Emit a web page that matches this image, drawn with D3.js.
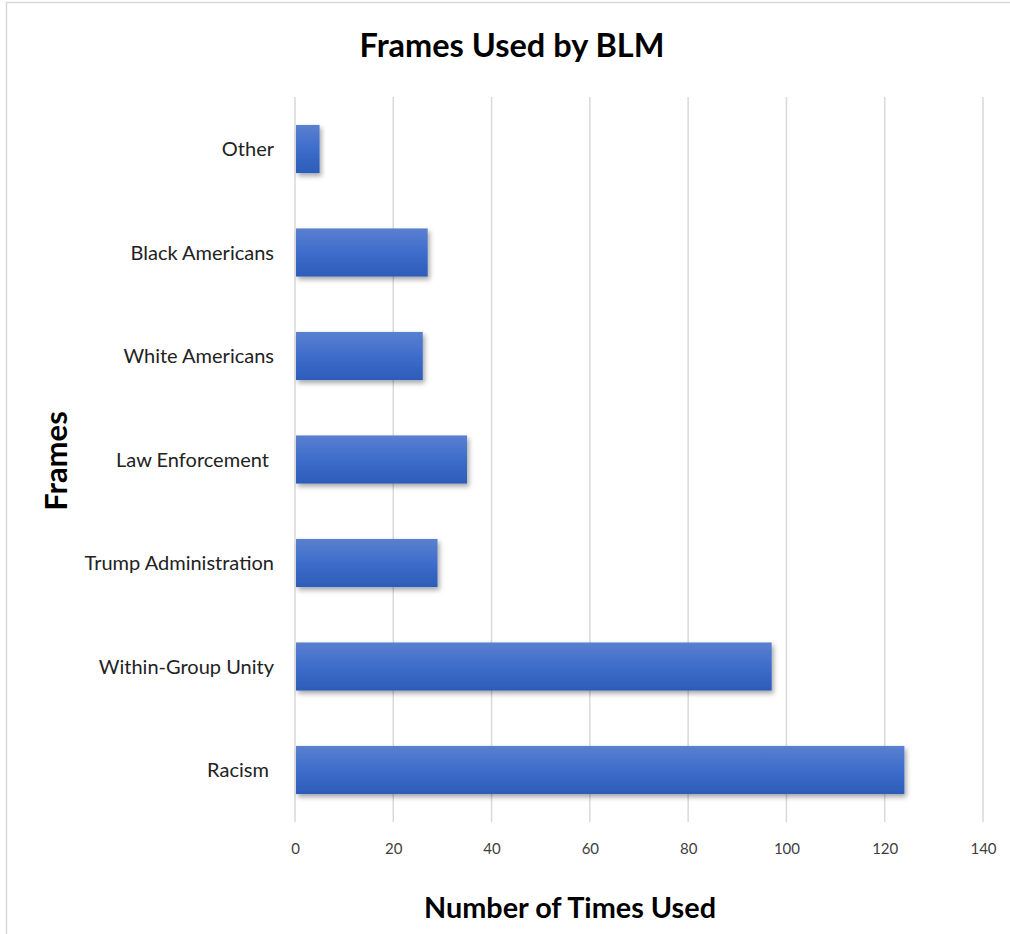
<!DOCTYPE html>
<html>
<head>
<meta charset="utf-8">
<script src="https://cdn.jsdelivr.net/npm/d3@7"></script>
<style>
  html, body { margin: 0; padding: 0; background: #fff; }
  svg text { font-family: Lato, "Open Sans", "Liberation Sans", sans-serif; }
</style>
</head>
<body>
<svg id="chart" width="1010" height="934"></svg>
<script>
// Frames and how often each one was used
const categories = ["Other", "Black Americans", "White Americans", "Law Enforcement ", "Trump Administration", "Within-Group Unity", "Racism "];
const counts = [5, 27, 26, 35, 29, 97, 124];
const xTicks = [0, 20, 40, 60, 80, 100, 120, 140];

const svg = d3.select("#chart");
const W = 1010, H = 934;
const m = { left: 295, right: 983, top: 97, bottom: 822 };

// chart frame
svg.append("rect")
  .attr("x", 6.5).attr("y", 2.5)
  .attr("width", W + 10).attr("height", H + 10)
  .attr("fill", "#fff").attr("stroke", "#d9d9d9").attr("stroke-width", 1.5);

const defs = svg.append("defs");
const grad = defs.append("linearGradient")
  .attr("id", "barFill").attr("x1", 0).attr("y1", 0).attr("x2", 0).attr("y2", 1);
grad.append("stop").attr("offset", "0%").attr("stop-color", "#5a80d0");
grad.append("stop").attr("offset", "50%").attr("stop-color", "#3d6dcb");
grad.append("stop").attr("offset", "100%").attr("stop-color", "#2d5cb8");

const shadow = defs.append("filter").attr("id", "barShadow")
  .attr("x", "-10%").attr("y", "-20%").attr("width", "130%").attr("height", "160%");
shadow.append("feDropShadow")
  .attr("dx", 2).attr("dy", 3).attr("stdDeviation", 2.5)
  .attr("flood-color", "#000").attr("flood-opacity", 0.35);

const x = d3.scaleLinear().domain([0, 140]).range([m.left, m.right]);
const y = d3.scaleBand().domain(categories).range([m.top, m.bottom]).paddingInner(0.535).paddingOuter(0.27);

// vertical gridlines
svg.append("g").selectAll("line").data(xTicks).join("line")
  .attr("x1", d => x(d)).attr("x2", d => x(d))
  .attr("y1", m.top).attr("y2", m.bottom)
  .attr("stroke", "#d9d9d9").attr("stroke-width", 1.5);

// bars
svg.append("g").selectAll("rect").data(categories).join("rect")
  .attr("x", x(0) + 1)
  .attr("y", d => y(d))
  .attr("width", (d, i) => x(counts[i]) - x(0) - 1)
  .attr("height", y.bandwidth())
  .attr("fill", "url(#barFill)")
  .attr("filter", "url(#barShadow)");

// x axis tick labels
const xAxis = d3.axisBottom(x).tickValues(xTicks).tickSize(0).tickPadding(0);
const gx = svg.append("g").attr("transform", `translate(0, ${m.bottom + 21})`).call(xAxis);
gx.select(".domain").remove();
gx.selectAll("text").attr("font-size", 15).attr("fill", "#404040")
  .attr("font-family", "Lato, 'Open Sans', sans-serif");

// category labels
const yAxis = d3.axisLeft(y).tickSize(0).tickPadding(0);
const gy = svg.append("g").attr("transform", `translate(${m.left - 21}, 1)`).call(yAxis);
gy.select(".domain").remove();
gy.selectAll("text").attr("font-size", 20).attr("fill", "#222")
  .attr("font-family", "Lato, 'Open Sans', sans-serif")
  .style("white-space", "pre");

// title
svg.append("text")
  .attr("x", 512).attr("y", 57)
  .attr("text-anchor", "middle")
  .attr("font-size", 32.5).attr("font-weight", "bold").attr("fill", "#000")
  .text("Frames Used by BLM");

// axis titles
svg.append("text")
  .attr("x", 570).attr("y", 918)
  .attr("text-anchor", "middle")
  .attr("font-size", 28.8).attr("font-weight", "bold").attr("fill", "#000")
  .text("Number of Times Used");

svg.append("text")
  .attr("transform", "translate(67, 461) rotate(-90)")
  .attr("text-anchor", "middle")
  .attr("font-size", 31).attr("font-weight", "bold").attr("fill", "#000")
  .text("Frames");
</script>
</body>
</html>
